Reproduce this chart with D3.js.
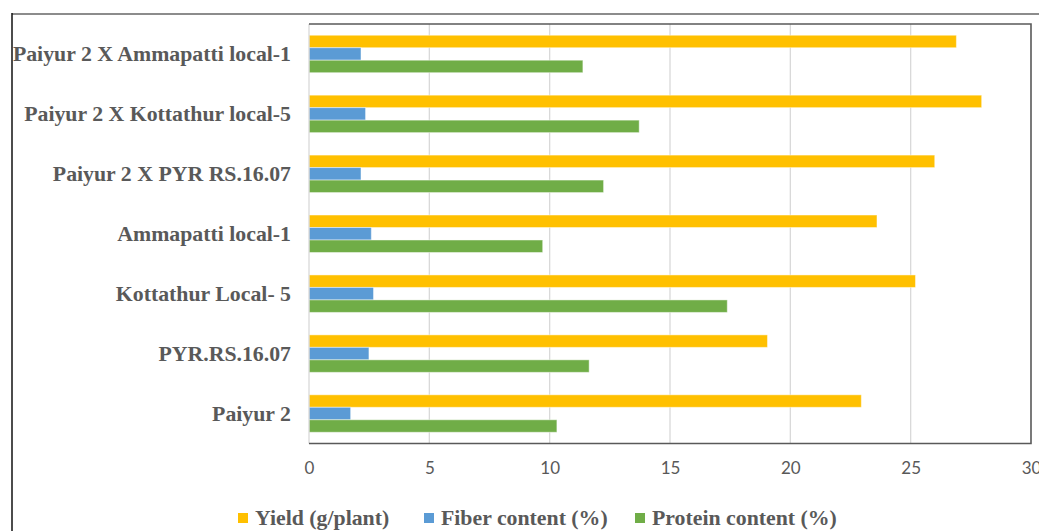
<!DOCTYPE html>
<html>
<head>
<meta charset="utf-8">
<script src="https://cdn.jsdelivr.net/npm/d3@7"></script>
<style>
  html, body { margin: 0; padding: 0; background: #fff; }
  svg { display: block; }
</style>
</head>
<body>
<div id="chart"></div>
<script>
const categories = [
  "Paiyur 2 X Ammapatti local-1",
  "Paiyur 2 X Kottathur local-5",
  "Paiyur 2 X PYR RS.16.07",
  "Ammapatti local-1",
  "Kottathur Local- 5",
  "PYR.RS.16.07",
  "Paiyur 2"
];
const seriesNames = ["Yield (g/plant)", "Fiber content (%)", "Protein content (%)"];
const yieldValues = [26.9, 27.95, 26.0, 23.6, 25.2, 19.05, 22.95];
const fiberValues = [2.16, 2.35, 2.16, 2.59, 2.68, 2.49, 1.73];
const proteinValues = [11.38, 13.72, 12.24, 9.71, 17.38, 11.64, 10.3];
const xTicks = [0, 5, 10, 15, 20, 25, 30];
const colors = ["#FFC000", "#5B9BD5", "#70AD47"];

const width = 1039, height = 531;
const plot = { left: 309, right: 1031, top: 24, bottom: 443.5 };

const svg = d3.select("#chart").append("svg")
  .attr("width", width).attr("height", height);

// outer frame (partially visible)
svg.append("line").attr("x1", 12).attr("x2", width).attr("y1", 14).attr("y2", 14)
  .attr("stroke", "#8c8c8c").attr("stroke-width", 2);
svg.append("line").attr("x1", 12).attr("x2", 12).attr("y1", 13).attr("y2", height)
  .attr("stroke", "#111").attr("stroke-width", 1.5);

const x = d3.scaleLinear().domain([0, 30]).range([plot.left, plot.right]);
const y = d3.scaleBand().domain(categories).range([plot.top, plot.bottom]);
const inner = d3.scaleBand().domain(seriesNames).range([0, y.bandwidth() * 0.625]);
const groupOffset = (y.bandwidth() - y.bandwidth() * 0.625) / 2;

// gridlines
svg.append("g").selectAll("line").data(xTicks.filter(d => d > 0 && d < 30)).join("line")
  .attr("x1", d => x(d)).attr("x2", d => x(d))
  .attr("y1", plot.top).attr("y2", plot.bottom)
  .attr("stroke", "#d9d9d9").attr("stroke-width", 1.3);

// bars
const table = categories.map((c, i) => ({
  category: c,
  values: [yieldValues[i], fiberValues[i], proteinValues[i]]
}));
const groups = svg.append("g").selectAll("g").data(table).join("g")
  .attr("transform", d => `translate(0,${y(d.category) + groupOffset})`);
groups.selectAll("rect").data(d => d.values.map((v, j) => ({ v, s: seriesNames[j], j }))).join("rect")
  .attr("x", x(0))
  .attr("y", d => inner(d.s))
  .attr("width", d => x(d.v) - x(0))
  .attr("height", inner.bandwidth())
  .attr("fill", d => colors[d.j])
  .attr("stroke", "rgba(255,255,255,0.45)")
  .attr("stroke-width", 1);

// left axis line
svg.append("line").attr("x1", x(0)).attr("x2", x(0)).attr("y1", plot.top).attr("y2", plot.bottom)
  .attr("stroke", "#d9d9d9").attr("stroke-width", 1.3);

// plot border top/right/bottom
svg.append("path")
  .attr("d", `M${x(0)},${plot.top}H${plot.right}V${plot.bottom}H${x(0)}`)
  .attr("fill", "none").attr("stroke", "#595959").attr("stroke-width", 1.6);

// category labels
svg.append("g").selectAll("text").data(categories).join("text")
  .attr("x", 291)
  .attr("y", d => y(d) + y.bandwidth() / 2)
  .attr("dy", "0.34em")
  .attr("text-anchor", "end")
  .attr("font-family", "'Liberation Serif', 'Times New Roman', serif")
  .attr("font-weight", "bold")
  .attr("font-size", "21.8px")
  .attr("fill", "#595959")
  .text(d => d);

// x axis
const xAxis = d3.axisBottom(x).tickValues(xTicks).tickSize(0).tickPadding(0);
const ax = svg.append("g").attr("transform", `translate(0,${plot.bottom})`).call(xAxis);
ax.select(".domain").remove();
ax.selectAll("text")
  .attr("y", 30)
  .attr("dy", 0)
  .attr("font-family", "Lato, 'Open Sans', sans-serif")
  .attr("font-size", "17px")
  .attr("fill", "#595959");

// legend
const legendItems = [
  { name: seriesNames[0], color: colors[0], x: 238 },
  { name: seriesNames[1], color: colors[1], x: 424 },
  { name: seriesNames[2], color: colors[2], x: 635 }
];
const lg = svg.append("g").selectAll("g").data(legendItems).join("g")
  .attr("transform", d => `translate(${d.x},518)`);
lg.append("rect").attr("x", 0).attr("y", -5).attr("width", 10).attr("height", 10)
  .attr("fill", d => d.color);
lg.append("text").attr("x", 17).attr("dy", "0.34em")
  .attr("font-family", "'Liberation Serif', 'Times New Roman', serif")
  .attr("font-weight", "bold").attr("font-size", "21.8px").attr("fill", "#595959")
  .text(d => d.name);
</script>
</body>
</html>
